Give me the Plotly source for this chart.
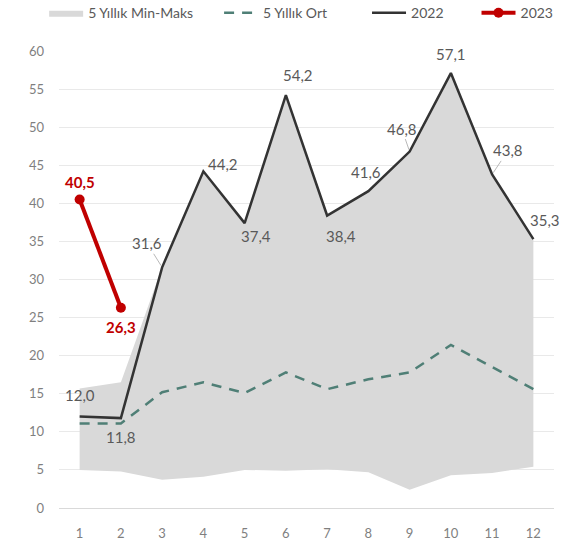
import plotly.graph_objects as go

# Months and series
months = [1, 2, 3, 4, 5, 6, 7, 8, 9, 10, 11, 12]
band_min = [5.0, 4.8, 3.7, 4.1, 5.0, 4.9, 5.1, 4.7, 2.4, 4.3, 4.6, 5.4]
band_max = [15.7, 16.5, 31.6, 44.2, 37.4, 54.2, 38.4, 41.6, 46.8, 57.1, 43.8, 35.3]
avg_5y = [11.1, 11.1, 15.2, 16.5, 15.1, 17.8, 15.6, 16.9, 17.8, 21.4, 18.5, 15.6]
y2022 = [12.0, 11.8, 31.6, 44.2, 37.4, 54.2, 38.4, 41.6, 46.8, 57.1, 43.8, 35.3]
months_2023 = [1, 2]
y2023 = [40.5, 26.3]
y_ticks = list(range(0, 65, 5))

FONT = "Lato"
GREY_TXT = "#595959"
TICK_TXT = "#7f7f7f"
GAP = "\u2002"  # en-space used to pad legend entries apart


def fmt(v):
    return f"{v:.1f}".replace(".", ",")


fig = go.Figure()

fig.add_trace(go.Scatter(
    x=months, y=band_min, mode="lines", line=dict(width=0, color="#d9d9d9"),
    showlegend=False, hoverinfo="skip",
))
fig.add_trace(go.Scatter(
    x=months, y=band_max, mode="lines", line=dict(width=0, color="#d9d9d9"),
    fill="tonexty", fillcolor="#d9d9d9", name="5 Yıllık Min-Maks" + GAP * 3,
))
fig.add_trace(go.Scatter(
    x=months, y=avg_5y, mode="lines", name="5 Yıllık Ort" + GAP * 5,
    line=dict(color="#4f7f76", width=2.5, dash="10px,8px"),
))
fig.add_trace(go.Scatter(
    x=months, y=y2022, mode="lines", name="2022" + GAP * 4,
    line=dict(color="#333333", width=2.5),
))
fig.add_trace(go.Scatter(
    x=months_2023, y=y2023, mode="lines+markers", name="2023",
    line=dict(color="#c00000", width=4),
    marker=dict(color="#c00000", size=10),
))

# Label placement for the 2022 values: (xshift, yshift, leader line)
offsets_2022 = [
    (0, 22, False), (0, -19, False), (-15, 24, True), (20, 7, False),
    (11, -13, False), (12, 20, False), (14, -20, False), (-2, 19, False),
    (-8, 23, True), (0, 19, False), (16, 24, True), (12, 19, False),
]
for m, v, (dx, dy, leader) in zip(months, y2022, offsets_2022):
    if leader:
        fig.add_annotation(
            x=m, y=v, text=fmt(v), showarrow=True, arrowhead=0,
            arrowwidth=0.8, arrowcolor="#a6a6a6", ax=dx, ay=-dy, standoff=2,
            font=dict(family=FONT, size=15, color=GREY_TXT),
        )
    else:
        fig.add_annotation(
            x=m, y=v, text=fmt(v), showarrow=False, xshift=dx, yshift=dy,
            font=dict(family=FONT, size=15, color=GREY_TXT),
        )

offsets_2023 = [(0, 18), (0, -19)]
for m, v, (dx, dy) in zip(months_2023, y2023, offsets_2023):
    fig.add_annotation(
        x=m, y=v, text=f"<b>{fmt(v)}</b>", showarrow=False, xshift=dx, yshift=dy,
        font=dict(family=FONT, size=15, color="#c00000"),
    )

fig.update_layout(
    width=562, height=542,
    margin=dict(l=59, r=8, t=51, b=34, autoexpand=False),
    paper_bgcolor="white", plot_bgcolor="white",
    font=dict(family=FONT, size=13, color=GREY_TXT),
    showlegend=True,
    legend=dict(
        orientation="h", traceorder="normal",
        x=-0.03, xanchor="left", y=1.083, yanchor="middle",
        font=dict(family=FONT, size=14, color=GREY_TXT),
        itemwidth=34, tracegroupgap=0, bgcolor="rgba(0,0,0,0)",
    ),
    xaxis=dict(
        range=[0.5, 12.5], tickmode="array", tickvals=months,
        ticktext=[str(m) for m in months], showgrid=False, zeroline=False,
        showline=False, ticks="", ticklabelstandoff=16, automargin=False,
        tickfont=dict(family=FONT, size=13, color=TICK_TXT),
    ),
    yaxis=dict(
        range=[0, 60], tickmode="array", tickvals=y_ticks,
        showgrid=True, gridcolor="#e9e9e9", gridwidth=1,
        zeroline=True, zerolinecolor="#d9d9d9", zerolinewidth=1,
        showline=False, ticks="", ticklabelstandoff=14, automargin=False,
        tickfont=dict(family=FONT, size=13, color=TICK_TXT),
    ),
)

fig.write_html("out.html")
